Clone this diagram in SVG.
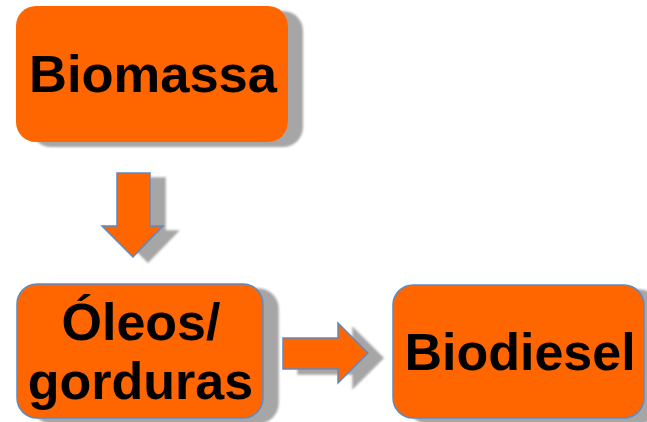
<svg xmlns="http://www.w3.org/2000/svg" width="647" height="422" viewBox="0 0 647 422">
<style>
.box{fill:#FF6600}
.edge{stroke:#5B8AC6;stroke-width:1.5}
.lbl{font-family:"Liberation Sans",Arial,sans-serif;font-weight:bold;font-size:52px;fill:#000;text-anchor:middle}
.arrow{fill:#FF6600;stroke:#5B8AC6;stroke-width:1.5;stroke-linejoin:miter}
</style>
<defs>
<filter id="sh" x="-10%" y="-10%" width="130%" height="130%">
<feGaussianBlur in="SourceAlpha" stdDeviation="1"/>
<feOffset dx="15" dy="5" result="o"/>
<feFlood flood-color="#A6A6A6"/>
<feComposite in2="o" operator="in" result="s"/>
<feMerge><feMergeNode in="s"/><feMergeNode in="SourceGraphic"/></feMerge>
</filter>
</defs>
<rect width="647" height="422" fill="#FFFFFF"/>
<g id="connectors" filter="url(#sh)">
<path class="arrow" d="M117,173 H150 V226 H163 L133,257 L102,226 H117 Z"/>
<path class="arrow" d="M283,338 H338 V323 L368,353 L338,383 V369 H283 Z"/>
</g>
<g id="biomassa" filter="url(#sh)">
<rect class="box" x="16" y="6" width="272" height="136" rx="20"/>
<text class="lbl" x="153" y="92" font-size="55" textLength="248" lengthAdjust="spacingAndGlyphs">Biomassa</text>
</g>
<g id="oleos" filter="url(#sh)">
<rect class="box edge" x="17" y="284" width="246" height="134" rx="20"/>
<text class="lbl" x="141" y="340">Óleos/</text>
<text class="lbl" x="140.5" y="399">gorduras</text>
</g>
<g id="biodiesel" filter="url(#sh)">
<rect class="box edge" x="393" y="285" width="251" height="133" rx="20"/>
<text class="lbl" x="520" y="370">Biodiesel</text>
</g>
</svg>
